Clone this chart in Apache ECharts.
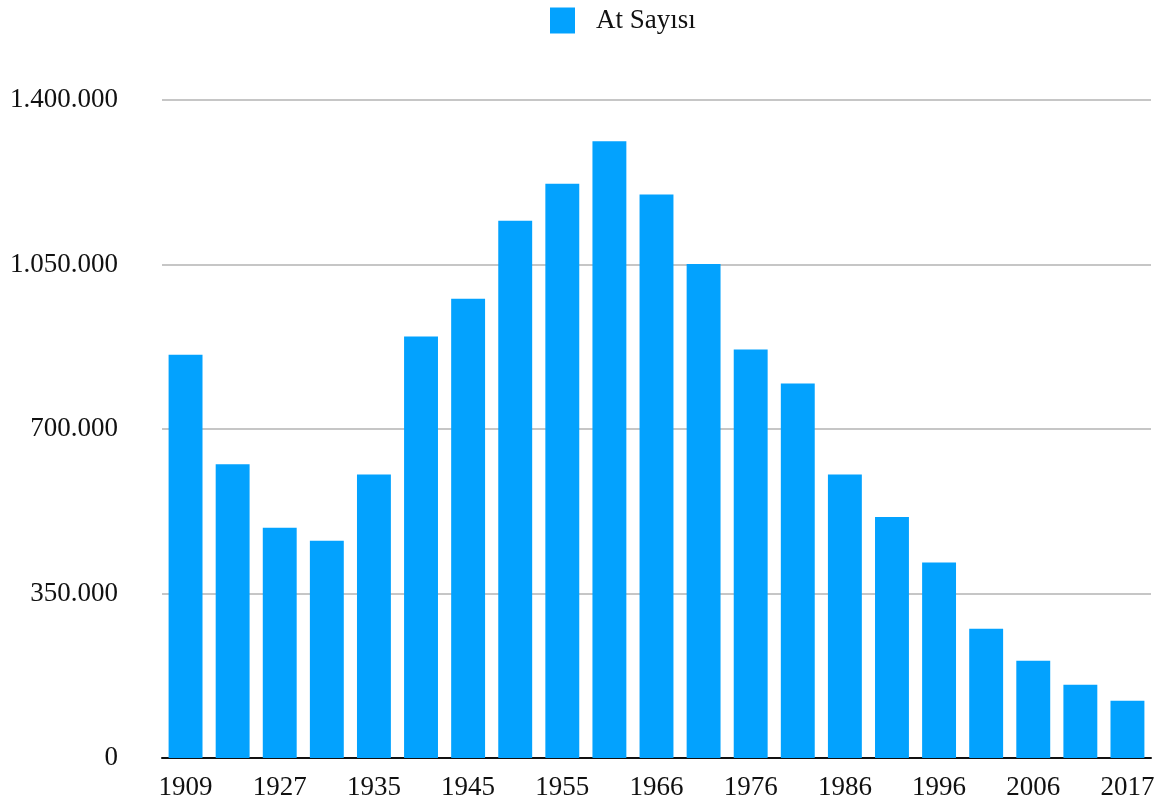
<!DOCTYPE html>
<html>
<head>
<meta charset="utf-8">
<script src="https://cdn.jsdelivr.net/npm/echarts@6/dist/echarts.min.js"></script>
<style>
html,body{margin:0;padding:0;background:#fff;}
#c{width:1163px;height:810px;}
</style>
</head>
<body>
<div id="c"></div>
<script>
var years = ['1909','1918','1927','1930','1935','1940','1945','1950','1955','1960','1966','1970','1976','1980','1986','1991','1996','2001','2006','2011','2017'];
var horses = [858000,625000,490000,462000,603000,897000,977000,1143000,1222000,1312000,1199000,1051000,869000,797000,603000,513000,416000,275000,207000,156000,122000];
var seriesName = 'At Sayısı';
var yTicks = {min:0, max:1400000, interval:350000};

function fmt(v){ return String(v).replace(/\B(?=(\d{3})+(?!\d))/g,'.'); }

var chart = echarts.init(document.getElementById('c'), null, {renderer:'canvas'});
var font = 'Liberation Serif, Times New Roman, serif';
chart.setOption({
  animation:false,
  textStyle:{fontFamily:font},
  legend:{
    left:545, top:2,
    itemWidth:25, itemHeight:26,
    icon:'rect',
    textStyle:{fontFamily:font, fontSize:27, color:'#111', padding:[0,0,0,16]},
    data:[seriesName]
  },
  grid:{left:162, right:12, top:100, bottom:52},
  xAxis:{
    type:'category',
    data:years,
    axisLine:{show:true, lineStyle:{color:'#111', width:2}},
    axisTick:{show:false},
    axisLabel:{interval:1, fontFamily:font, fontSize:27, color:'#111', margin:16}
  },
  yAxis:{
    type:'value',
    min:yTicks.min, max:yTicks.max, interval:yTicks.interval,
    axisLine:{show:false},
    axisTick:{show:false},
    splitLine:{lineStyle:{color:'#c6c6c6', width:2}},
    axisLabel:{fontFamily:font, fontSize:27, color:'#111', margin:44, formatter:fmt}
  },
  series:[{
    name:seriesName,
    type:'bar',
    data:horses,
    barCategoryGap:'28%',
    itemStyle:{color:'#03a2fe'}
  }]
});
</script>
</body>
</html>
